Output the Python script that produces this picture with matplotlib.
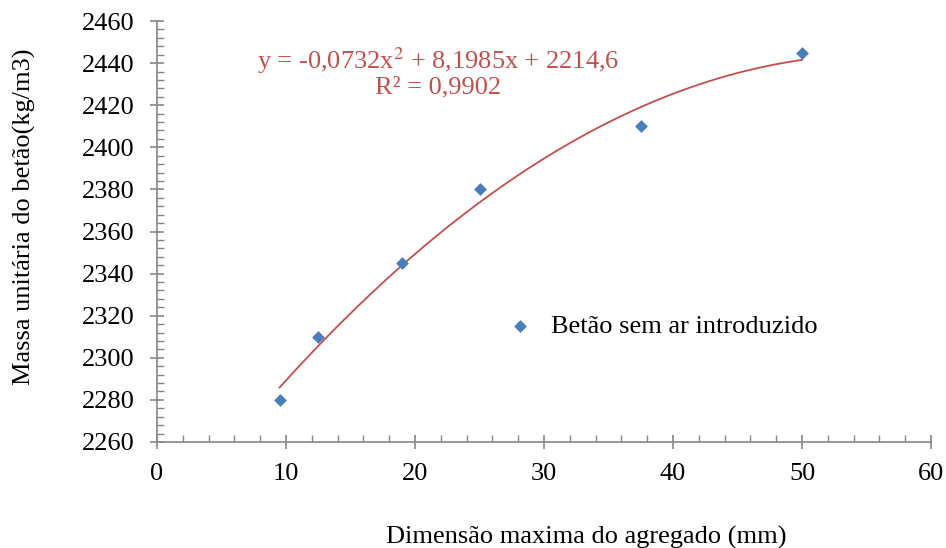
import matplotlib as mpl
mpl.use("Agg")
import matplotlib.pyplot as plt
import numpy as np
from matplotlib.ticker import MultipleLocator

# aggregate size (mm) vs unit mass of concrete (kg/m3)
dim_max = [9.5, 12.5, 19, 25, 37.5, 50]
massa = [2280, 2310, 2345, 2380, 2410, 2445]
serie = 'Betão sem ar introduzido'

# quadratic trendline coefficients
coef = [-0.0732, 8.1985, 2214.6]
r2 = 0.9902

plt.rcParams['font.family'] = ['Liberation Serif', 'DejaVu Serif']

fig = plt.figure(figsize=(9.46, 5.48), dpi=100)
ax = fig.add_axes([157/946, 1-442/548, (931-157)/946, (442-21)/548])

xs = np.linspace(min(dim_max), max(dim_max), 200)
ax.plot(xs, np.polyval(coef, xs), color='#c0504d', lw=1.3, zorder=2)
ax.scatter(dim_max, massa, marker='D', s=36, color='#4a7ebb',
           edgecolors='#4a7ebb', linewidths=0.5, zorder=3, label=serie)

ax.set_xlim(0, 60)
ax.set_ylim(2260, 2460)
ax.xaxis.set_major_locator(MultipleLocator(10))
ax.xaxis.set_minor_locator(MultipleLocator(2))
ax.yaxis.set_major_locator(MultipleLocator(20))
ax.yaxis.set_minor_locator(MultipleLocator(4))

gray = '#868686'
for s in ['top', 'right']:
    ax.spines[s].set_visible(False)
for s in ['left', 'bottom']:
    ax.spines[s].set_color(gray)
    ax.spines[s].set_linewidth(1.2)
ax.tick_params(which='major', direction='inout', length=10, width=1.2,
               color=gray, labelsize=19, pad=11)
ax.tick_params(which='minor', direction='in', length=5, width=1.0, color=gray)
ax.tick_params(axis='x', which='major', pad=10)

ax.set_xlabel('Dimensão maxima do agregado (mm)', fontsize=19)
ax.xaxis.set_label_coords(0.554, -0.2)
ax.set_ylabel('Massa unitária do betão(kg/m3)', fontsize=19)
ax.yaxis.set_label_coords(-0.156, 0.534)

ax.text(0.363, 0.907, 'y = -0,0732x$^2$ + 8,1985x + 2214,6',
        transform=ax.transAxes, ha='center', va='center', fontsize=19,
        color='#c0504d', math_fontfamily='stix')
ax.text(0.363, 0.841, 'R² = ' + f'{r2}'.replace('.', ','),
        transform=ax.transAxes, ha='center', va='center', fontsize=19,
        color='#c0504d')

ax.legend(loc='center left', bbox_to_anchor=(0.421, 0.275), frameon=False,
          fontsize=19, handletextpad=0.2, markerscale=1.0, borderaxespad=0)

fig.savefig('out.png', dpi=100)
plt.close(fig)
